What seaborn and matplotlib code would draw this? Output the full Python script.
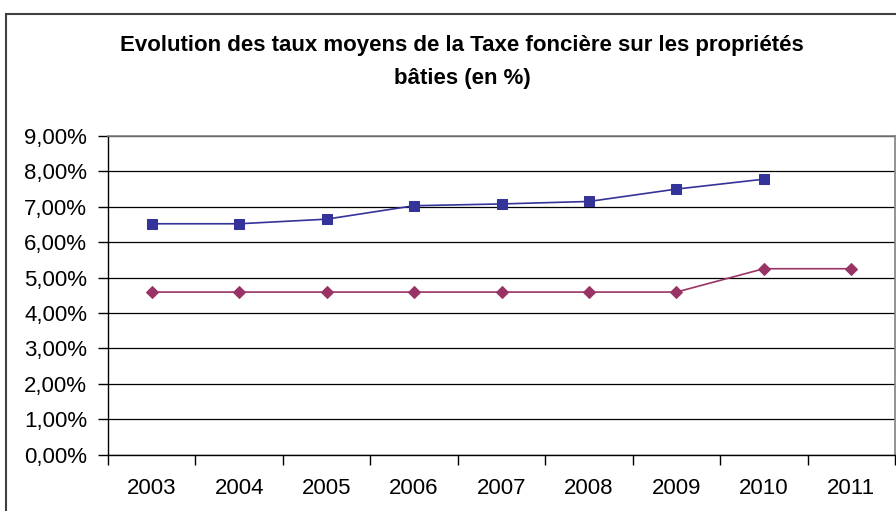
import matplotlib
matplotlib.use("Agg")
import matplotlib.pyplot as plt
import seaborn as sns
import pandas as pd
import numpy as np
from matplotlib.patches import Rectangle
from matplotlib.ticker import FuncFormatter

years = ["2003", "2004", "2005", "2006", "2007", "2008", "2009", "2010", "2011"]
serie_bleue = [6.52, 6.52, 6.65, 7.03, 7.08, 7.15, 7.50, 7.78, np.nan]
serie_violette = [4.59, 4.59, 4.59, 4.59, 4.59, 4.59, 4.59, 5.25, 5.25]
title = "Evolution des taux moyens de la Taxe foncière sur les propriétés\nbâties (en %)"

sns.set_theme(style="white")
plt.rcParams['font.family'] = ['Liberation Sans', 'DejaVu Sans']

fig = plt.figure(figsize=(8.96, 5.11), dpi=100)
ax = fig.add_axes([108/896, 1-454.5/511, (895-108)/896, (454.5-136)/511])

df = pd.DataFrame({"pos": np.arange(len(years)), "bleue": serie_bleue, "violette": serie_violette})

sns.lineplot(data=df, x="pos", y="bleue", ax=ax, color="#333399", marker="s",
             markersize=6.5, markeredgecolor="#333399", linewidth=1.2)
sns.lineplot(data=df, x="pos", y="violette", ax=ax, color="#993366", marker="D",
             markersize=6, markeredgecolor="#993366", linewidth=1.2)

ax.set_xlim(-0.5, len(years) - 0.5)
ax.set_ylim(0, 9)
ax.set_yticks(np.arange(0, 10, 1))
ax.yaxis.set_major_formatter(FuncFormatter(lambda v, p: f"{v:.2f}".replace(".", ",") + "%"))
ax.set_xticks(np.arange(len(years)))
ax.set_xticklabels(years)
ax.set_xticks(np.arange(-0.5, len(years), 1), minor=True)
ax.set_xlabel("")
ax.set_ylabel("")

ax.grid(axis="y", color="black", linewidth=0.9)
ax.set_axisbelow(True)

for s in ["left", "bottom"]:
    ax.spines[s].set_color("black")
    ax.spines[s].set_linewidth(1.0)
for s in ["top", "right"]:
    ax.spines[s].set_color("#808080")
    ax.spines[s].set_linewidth(1.2)

ax.tick_params(axis="y", which="major", left=True, length=7, width=1, color="black",
               labelsize=16, pad=8, labelcolor="black")
ax.tick_params(axis="x", which="major", bottom=False, labelsize=16, pad=11, labelcolor="black")
ax.tick_params(axis="x", which="minor", bottom=True, length=7, width=1, color="black")

fig.text(462/896, 1-62/511, title, ha="center", va="center", fontsize=16,
         fontweight="bold", linespacing=1.7, color="black")

fig.add_artist(Rectangle((6/896, -0.1), 1.2, 1.1 - 14/511, transform=fig.transFigure,
                         fill=False, edgecolor="#404040", linewidth=1.5, clip_on=False))

fig.savefig("out.png", dpi=100)
